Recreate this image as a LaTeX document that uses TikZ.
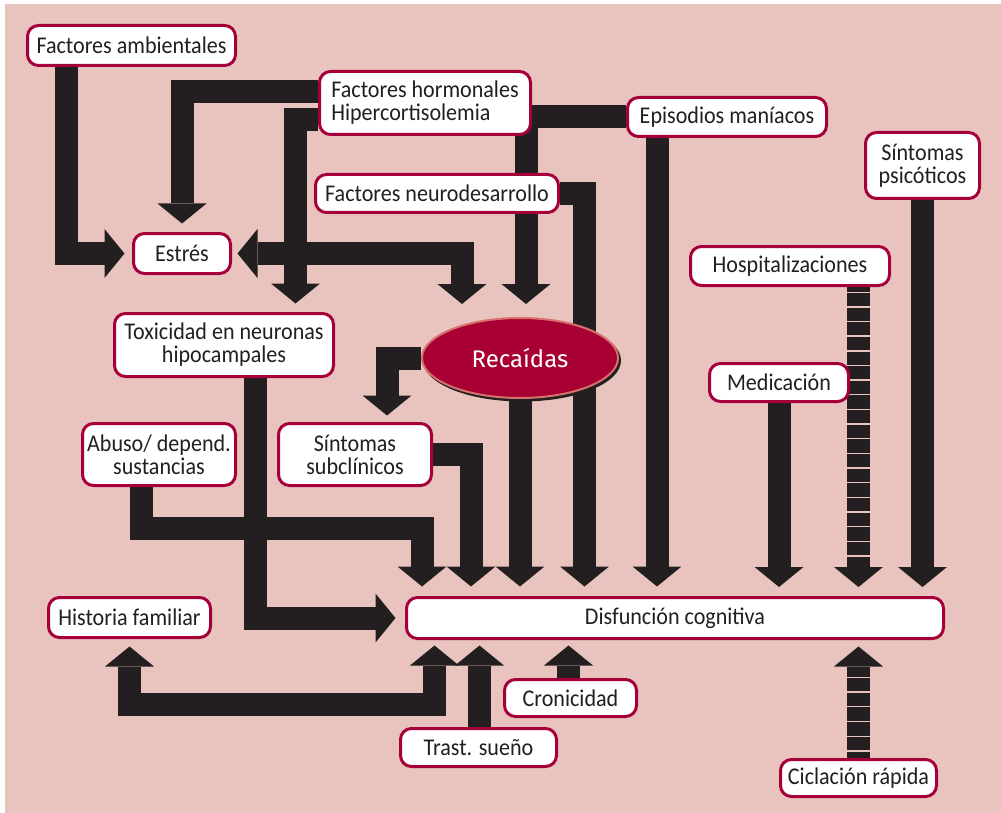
\documentclass[tikz,border=0pt]{standalone}
\usepackage{fontspec}
\usetikzlibrary{arrows.meta,shapes.geometric}
\newfontfamily\bxfont[FakeStretch=0.92]{Carlito}
\newfontfamily\recfont{Fira Sans}
\definecolor{bgpink}{HTML}{E9C4BF}
\definecolor{bord}{HTML}{A6003A}
\definecolor{ink}{HTML}{231F20}
\definecolor{recfill}{HTML}{A80032}
\definecolor{recedge}{HTML}{D7706C}
\pgfdeclarelayer{back}
\pgfdeclarelayer{bars}
\pgfsetlayers{back,bars,main}
\tikzset{
  box/.style={draw=bord, line width=3pt, fill=white, rounded corners=11pt, align=center,
    inner sep=0pt, text=ink, font=\bxfont\fontsize{24}{23}\selectfont},
  tipp/.tip={Triangle[width=49pt,length=20pt,line width=0pt]},
  bar/.style={draw=ink, line width=23pt, line cap=butt, line join=miter, -tipp},
  dbar/.style={draw=ink, line width=23pt, line cap=butt, line join=miter, tipp-tipp},
}
\begin{document}
\begin{tikzpicture}[x=1pt,y=-1pt]
\useasboundingbox (0,0) rectangle (1001,813);
\begin{pgfonlayer}{back}
  \fill[white] (0,0) rectangle (1001,813);
  \fill[bgpink] (5,4) rectangle (1001,813);
\end{pgfonlayer}

% nodes
\node[box, minimum width=208pt, minimum height=40pt] (amb) at (131.5,45.5) {Factores ambientales};
\node[box, align=left, minimum width=211pt, minimum height=63pt] (hor) at (425,103) {Factores hormonales\\Hipercortisolemia};
\node[box, minimum width=199pt, minimum height=39pt] (epi) at (727,117) {Episodios maníacos};
\node[box, minimum width=243pt, minimum height=38pt] (neu) at (437,193.5) {Factores neurodesarrollo};
\node[box, minimum width=114pt, minimum height=66pt] (psi) at (922.5,165.5) {Síntomas\\psicóticos};
\node[box, minimum width=199pt, minimum height=39pt] (hos) at (790,266) {Hospitalizaciones};
\node[box, minimum width=139pt, minimum height=38pt] (med) at (779,382.5) {Medicación};
\node[box, minimum width=97pt, minimum height=40pt] (est) at (182,253.5) {Estrés};
\node[box, minimum width=219pt, minimum height=63pt] (tox) at (224,345) {Toxicidad en neuronas\\hipocampales};
\fill[ink] (522,360.5) ellipse [x radius=99pt, y radius=41pt];
\node[ellipse, draw=recedge, line width=2pt, fill=recfill, inner sep=0pt,
      minimum width=196pt, minimum height=80pt, text=white,
      font=\recfont\fontsize{24}{24}\selectfont] (rec) at (520,358) {Recaídas};
\node[box, minimum width=153pt, minimum height=62pt] (sub) at (355,454.5) {Síntomas\\subclínicos};
\node[box, minimum width=153pt, minimum height=62pt] (abu) at (159,454.5) {Abuso/ depend.\\sustancias};
\node[box, minimum width=162pt, minimum height=40pt] (his) at (129.5,617.5) {Historia familiar};
\node[box, minimum width=537pt, minimum height=41pt] (dis) at (675,618) {Disfunción cognitiva};
\node[box, minimum width=132pt, minimum height=37pt] (cro) at (570.5,698) {Cronicidad};
\node[box, minimum width=156pt, minimum height=38pt] (tra) at (478.5,747.5) {Trast. sueño};
\node[box, minimum width=156pt, minimum height=37pt] (cic) at (858.5,778) {Ciclación rápida};

\begin{pgfonlayer}{bars}
  % Factores ambientales -> Estres
  \draw[bar, shorten >=7.5pt] (amb.south -| 66,0) |- (est.west);
  % hormonales -> Estres
  \draw[bar, shorten >=8.5pt] (hor.west |- 0,91.5) -| (est.north);
  % hormonales -> Toxicidad
  \draw[bar, shorten >=8.5pt] (hor.west |- 0,120) -| (tox.north -| 295.5,0);
  % Estres <-> Recaidas
  \draw[dbar, shorten <=5.5pt, shorten >=13pt] (est.east) -| (rec.north -| 462,0);
  % Episodios / hormonales -> Recaidas
  \draw[bar, shorten >=13pt] (epi.west) -| (rec.north -| 526,0);
  % neurodesarrollo -> Disfuncion
  \draw[bar, shorten >=9.5pt] (neu.east) -| (dis.north -| 584.5,0);
  % Episodios -> Disfuncion
  \draw[bar, shorten >=9.5pt] (epi.south -| 657,0) -- (dis.north -| 657,0);
  % Psicoticos -> Disfuncion
  \draw[bar, shorten >=9pt] (psi.south) -- (dis.north -| psi.south);
  % Hospitalizaciones -> Disfuncion (striped)
  \draw[bar, shorten >=9pt] (hos.south -| 858.5,0) -- (dis.north -| 858.5,0);
  \foreach \k in {0,...,18} \fill[bgpink] (846,{291.5+14.65*\k}) rectangle ++(25,1.4);
  % Medicacion -> Disfuncion
  \draw[bar, shorten >=9pt] (med.south) -- (dis.north -| med.south);
  % Ciclacion -> Disfuncion (striped)
  \draw[bar, shorten >=6.5pt] (cic.north) -- (dis.south -| cic.north);
  \foreach \k in {0,...,5} \fill[bgpink] (846,{676.5+14.75*\k}) rectangle ++(25,1.4);
  % Recaidas -> Sintomas subclinicos
  \draw[bar, shorten >=6.5pt] (rec.west) -| (sub.north -| 387,0);
  % Recaidas -> Disfuncion
  \draw[bar, shorten >=9.5pt] (rec.south) -- (dis.north -| rec.south);
  % Subclinicos -> Disfuncion
  \draw[bar, shorten >=9.5pt] (sub.east) -| (dis.north -| 471,0);
  % Abuso -> Disfuncion
  \draw[bar, shorten >=9.5pt] (abu.south -| 141.5,0) |- (422,528.5) -- (dis.north -| 422,0);
  % Toxicidad -> Disfuncion
  \draw[bar, shorten >=9.5pt] (tox.south -| 255.5,0) |- (dis.west);
  % Historia familiar <-> Disfuncion
  \draw[dbar, shorten <=7.5pt, shorten >=5.5pt] (his.south) |- (434.5,704.5) -- (dis.south -| 434.5,0);
  % Trast. sueno -> Disfuncion
  \draw[bar, shorten >=5.5pt] (tra.north -| 479.5,0) -- (dis.south -| 479.5,0);
  % Cronicidad -> Disfuncion
  \draw[bar, shorten >=5.5pt] (cro.north -| 568.5,0) -- (dis.south -| 568.5,0);
\end{pgfonlayer}
\end{tikzpicture}
\end{document}
